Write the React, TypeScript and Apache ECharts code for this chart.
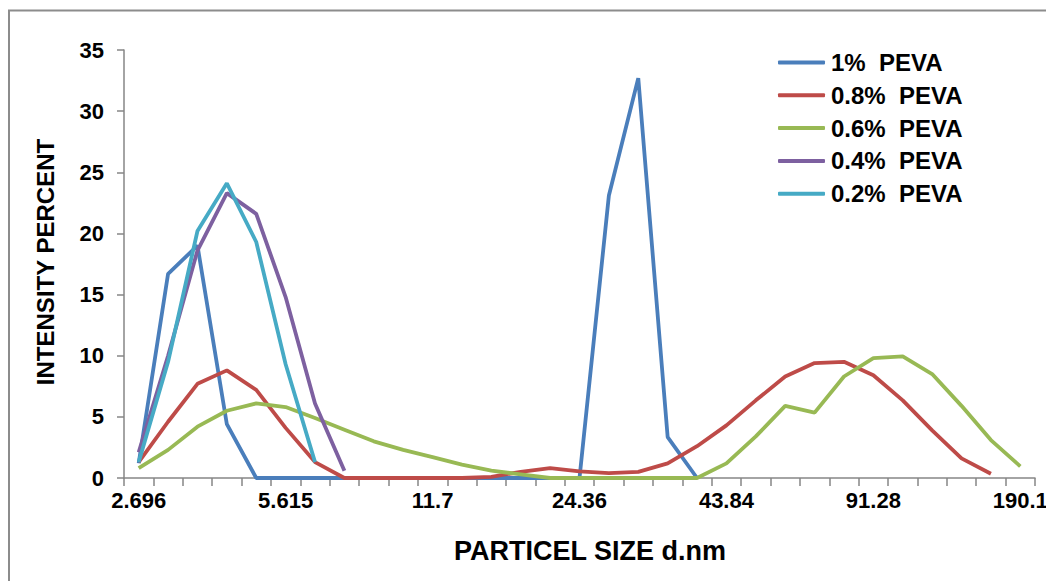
import React, { useEffect, useRef } from "react";
import * as echarts from "echarts";

const sizes: string[] = [
  "2.696", "3.122", "3.615", "4.187", "4.849", "5.615", "6.503", "7.531", "8.721", "10.1",
  "11.7", "13.54", "15.69", "18.17", "21.04", "24.36", "27.4", "30.9", "34.8", "39.2",
  "43.84", "50.75", "58.77", "68.06", "78.82", "91.28", "105.7", "122.4", "141.8", "164.2", "190.1",
];

const peva1: (number | null)[] = [
  1.2, 16.7, 19.0, 4.4, 0, 0, 0, 0, 0, 0, 0, 0, 0, 0, 0, 0, 23.1, 32.7, 3.35, 0,
  null, null, null, null, null, null, null, null, null, null, null,
];
const peva08: (number | null)[] = [
  1.3, 4.6, 7.7, 8.8, 7.2, 4.1, 1.3, 0, 0, 0, 0, 0, 0.1, 0.5, 0.8, 0.55, 0.4, 0.5, 1.2, 2.6,
  4.3, 6.35, 8.3, 9.4, 9.5, 8.4, 6.35, 3.9, 1.6, 0.35, null,
];
const peva06: (number | null)[] = [
  0.8, 2.3, 4.2, 5.5, 6.1, 5.8, 4.9, 3.95, 3.0, 2.3, 1.7, 1.1, 0.6, 0.3, 0, 0, 0, 0, 0, 0,
  1.2, 3.4, 5.9, 5.35, 8.3, 9.8, 9.95, 8.5, 5.9, 3.1, 0.95,
];
const peva04: (number | null)[] = [
  2.1, 10.0, 18.6, 23.3, 21.6, 14.8, 6.1, 0.6, null, null, null, null, null, null, null, null,
  null, null, null, null, null, null, null, null, null, null, null, null, null, null, null,
];
const peva02: (number | null)[] = [
  1.3, 9.5, 20.2, 24.1, 19.3, 9.3, 1.3, null, null, null, null, null, null, null, null, null,
  null, null, null, null, null, null, null, null, null, null, null, null, null, null, null,
];

const seriesNames = ["1%  PEVA", "0.8%  PEVA", "0.6%  PEVA", "0.4%  PEVA", "0.2%  PEVA"];
const seriesData = [peva1, peva08, peva06, peva04, peva02];
const colors = ["#4A7EBB", "#BE4B48", "#98B954", "#7D60A0", "#46AAC5"];

const FONT = '"Liberation Sans", Arial, sans-serif';

export default function App() {
  const ref = useRef<HTMLDivElement>(null);
  useEffect(() => {
    if (!ref.current) return;
    const chart = echarts.init(ref.current, null, { renderer: "svg" });
    chart.setOption({
      animation: false,
      backgroundColor: "#ffffff",
      grid: { left: 116, right: 19, top: 42, bottom: 103, containLabel: false },
      legend: {
        orient: "vertical",
        left: 770,
        top: 42.5,
        padding: 0,
        icon: "roundRect",
        itemWidth: 47,
        itemHeight: 4,
        itemGap: 8.8,
        data: seriesNames,
        textStyle: {
          fontFamily: FONT,
          fontWeight: "bold",
          fontSize: 24,
          lineHeight: 24,
          color: "#000",
          padding: [0, 0, 0, 1],
        },
      },
      xAxis: {
        type: "category",
        data: sizes,
        boundaryGap: true,
        axisLine: { lineStyle: { color: "#868686", width: 1.5 } },
        axisTick: { show: true, interval: 0, length: 8, lineStyle: { color: "#868686", width: 1.5 } },
        axisLabel: {
          interval: 4,
          margin: 11,
          fontFamily: FONT,
          fontWeight: "bold",
          fontSize: 22,
          color: "#000",
        },
        splitLine: { show: false },
      },
      yAxis: {
        type: "value",
        min: 0,
        max: 35,
        interval: 5,
        axisLine: { show: true, lineStyle: { color: "#868686", width: 1.5 } },
        axisTick: { show: true, length: 7, lineStyle: { color: "#868686", width: 1.5 } },
        axisLabel: { margin: 20, fontFamily: FONT, fontWeight: "bold", fontSize: 22, color: "#000" },
        splitLine: { show: false },
      },
      series: seriesData.map((d, i) => ({
        name: seriesNames[i],
        type: "line",
        data: d,
        symbol: "none",
        color: colors[i],
        itemStyle: { color: colors[i] },
        lineStyle: { width: 3.8, color: colors[i] },
        connectNulls: false,
      })),
      graphic: [
        {
          type: "rect",
          silent: true,
          shape: { x: 1, y: 2.5, width: 1200, height: 800 },
          style: { fill: "none", stroke: "#8c8c8c", lineWidth: 2 },
        },
        {
          type: "text",
          x: 37,
          y: 254,
          rotation: Math.PI / 2,
          style: {
            text: "INTENSITY PERCENT",
            fontFamily: FONT,
            fontWeight: "bold",
            fontSize: 24,
            fill: "#000",
            align: "center",
            verticalAlign: "middle",
          },
        },
        {
          type: "text",
          x: 582,
          y: 543,
          style: {
            text: "PARTICEL SIZE d.nm",
            fontFamily: FONT,
            fontWeight: "bold",
            fontSize: 27,
            fill: "#000",
            align: "center",
            verticalAlign: "middle",
          },
        },
      ],
    });
    return () => chart.dispose();
  }, []);
  return <div ref={ref} style={{ width: 1046, height: 573 }} />;
}
